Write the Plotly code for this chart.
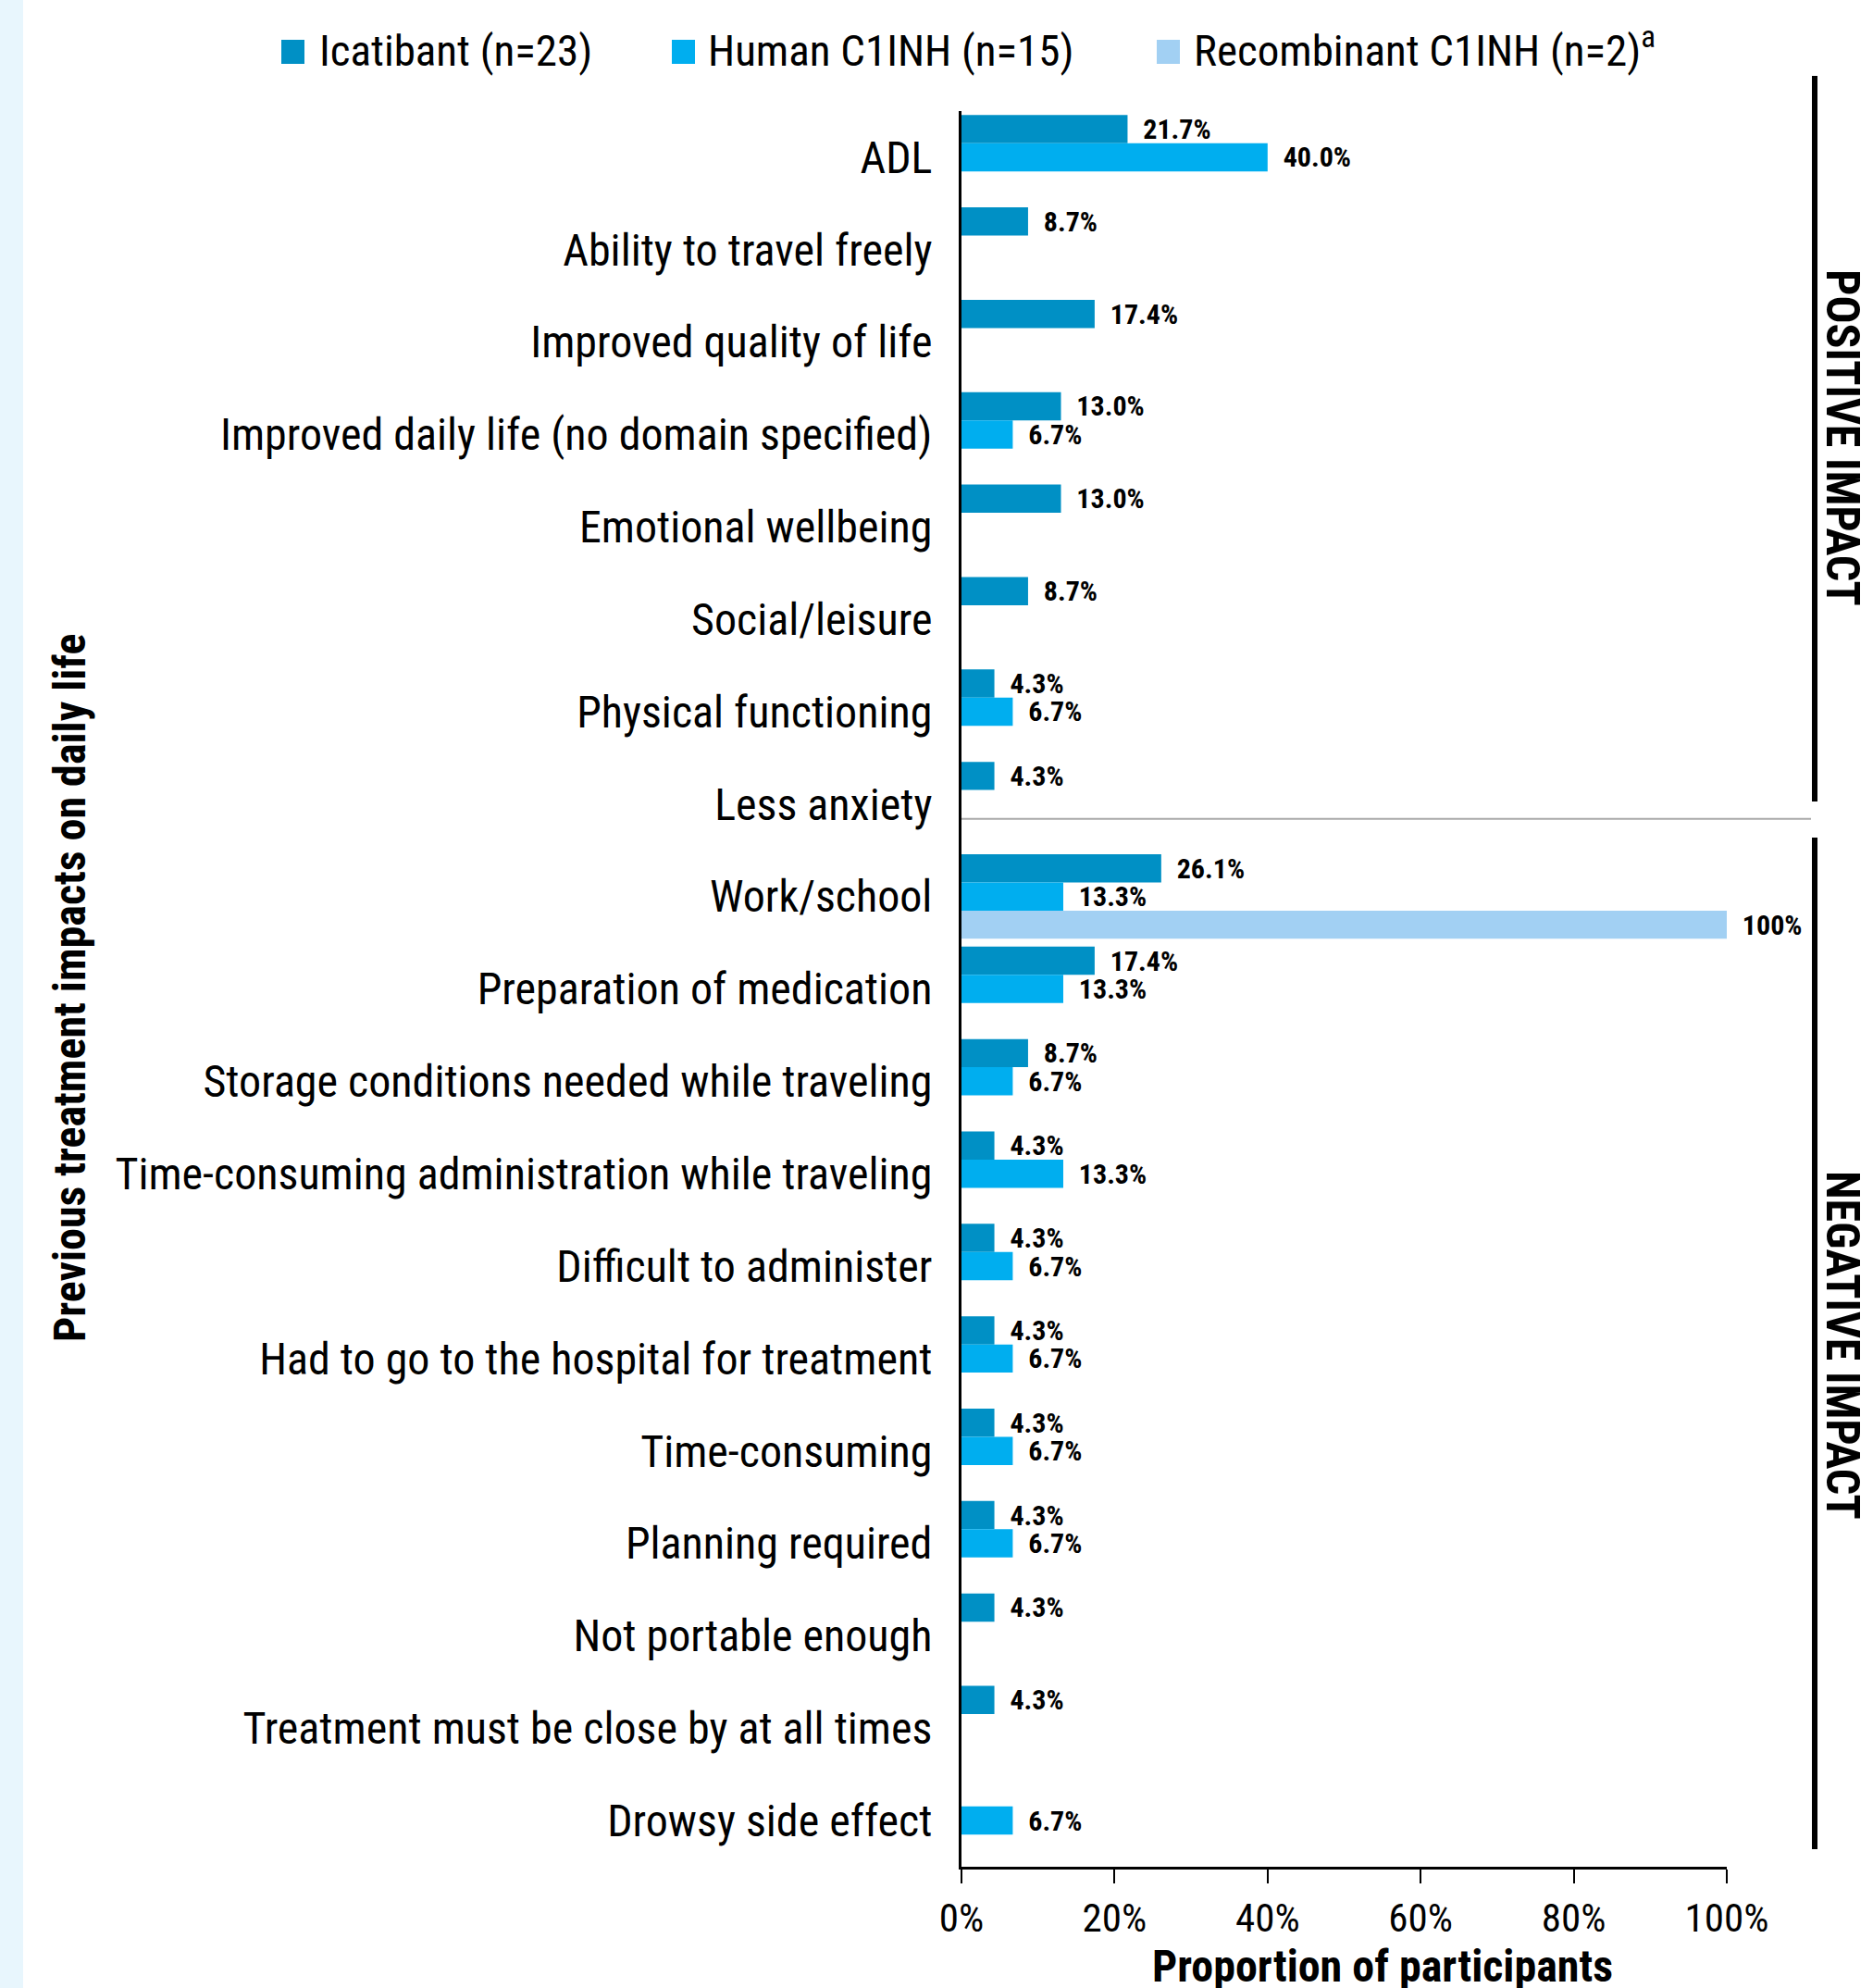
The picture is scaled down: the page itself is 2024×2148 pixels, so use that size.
import plotly.graph_objects as go

categories = [
    "ADL",
    "Ability to travel freely",
    "Improved quality of life",
    "Improved daily life (no domain specified)",
    "Emotional wellbeing",
    "Social/leisure",
    "Physical functioning",
    "Less anxiety",
    "Work/school",
    "Preparation of medication",
    "Storage conditions needed while traveling",
    "Time-consuming administration while traveling",
    "Difficult to administer",
    "Had to go to the hospital for treatment",
    "Time-consuming",
    "Planning required",
    "Not portable enough",
    "Treatment must be close by at all times",
    "Drowsy side effect",
]

icatibant = [21.7, 8.7, 17.4, 13.0, 13.0, 8.7, 4.3, 4.3,
             26.1, 17.4, 8.7, 4.3, 4.3, 4.3, 4.3, 4.3, 4.3, 4.3, None]
human_c1inh = [40.0, None, None, 6.7, None, None, 6.7, None,
               13.3, 13.3, 6.7, 13.3, 6.7, 6.7, 6.7, 6.7, None, None, 6.7]
recombinant_c1inh = [None, None, None, None, None, None, None, None,
                     100.0, None, None, None, None, None, None, None, None, None, None]

series_names = ["Icatibant (n=23)", "Human C1INH (n=15)", "Recombinant C1INH (n=2)<sup>a</sup>"]
series_values = [icatibant, human_c1inh, recombinant_c1inh]
series_colors = ["#0090C5", "#00AEEF", "#A2D0F3"]

x_ticks = [0, 20, 40, 60, 80, 100]
x_tick_labels = ["0%", "20%", "40%", "60%", "80%", "100%"]

FONT = "'Liberation Sans Narrow', 'Roboto Condensed', 'Arial Narrow', 'DejaVu Sans Condensed', sans-serif"

W, H = 2024, 2148
ML, MR, MT, MB = 1039, 158, 120, 131
PW = W - ML - MR
PH = H - MT - MB


def px_x(px):
    return (px - ML) / PW


def px_y(py):
    return 1 - (py - MT) / PH


def fmt(v):
    if v is None:
        return ""
    if v >= 100:
        return "\u00a0\u00a0%d%%" % round(v)
    return "\u00a0\u00a0%.1f%%" % v


fig = go.Figure()
for name, vals, col in zip(series_names, series_values, series_colors):
    fig.add_trace(go.Bar(
        y=categories,
        x=vals,
        name=name,
        orientation="h",
        marker=dict(color=col, line=dict(width=0)),
        text=[fmt(v) for v in vals],
        textposition="outside",
        constraintext="none",
        cliponaxis=False,
        textfont=dict(family=FONT, size=30, color="black", weight="bold"),
        hoverinfo="skip",
        showlegend=False,
    ))

shapes = []
# left light stripe
shapes.append(dict(type="rect", xref="paper", yref="paper",
                   x0=px_x(0), x1=px_x(25), y0=px_y(H + 5), y1=px_y(-5),
                   fillcolor="#E8F6FD", line=dict(width=0), layer="below"))
# separator line between positive and negative impacts
shapes.append(dict(type="line", xref="paper", yref="y",
                   x0=0, x1=px_x(1957), y0=7.16, y1=7.16,
                   line=dict(color="#AAAAAA", width=2)))
# brackets
shapes.append(dict(type="line", xref="paper", yref="paper",
                   x0=px_x(1961), x1=px_x(1961), y0=px_y(82), y1=px_y(866),
                   line=dict(color="black", width=6)))
shapes.append(dict(type="line", xref="paper", yref="paper",
                   x0=px_x(1961), x1=px_x(1961), y0=px_y(905), y1=px_y(1998),
                   line=dict(color="black", width=6)))

annotations = [
    dict(text="<b>POSITIVE IMPACT</b>", xref="paper", yref="paper",
         x=px_x(1991), y=px_y(473), textangle=90, showarrow=False,
         font=dict(family=FONT, size=50, color="black"),
         xanchor="center", yanchor="middle"),
    dict(text="<b>NEGATIVE IMPACT</b>", xref="paper", yref="paper",
         x=px_x(1991), y=px_y(1453), textangle=90, showarrow=False,
         font=dict(family=FONT, size=50, color="black"),
         xanchor="center", yanchor="middle"),
    dict(text="<b>Previous treatment impacts on daily life</b>", xref="paper", yref="paper",
         x=px_x(75), y=px_y(1068), textangle=-90, showarrow=False,
         font=dict(family=FONT, size=48, color="black"),
         xanchor="center", yanchor="middle"),
    dict(text="<b>Proportion of participants</b>", xref="paper", yref="paper",
         x=px_x(1494), y=px_y(2124), showarrow=False,
         font=dict(family=FONT, size=48, color="black"),
         xanchor="center", yanchor="middle"),
]

# legend (drawn as swatches + labels to match the reference sizing)
legend_icon_x = [304, 726, 1250]
legend_text_x = [343, 763, 1288]
legend_text_y = [55, 55, 51]
for name, col, ix, tx, ty in zip(series_names, series_colors, legend_icon_x, legend_text_x, legend_text_y):
    shapes.append(dict(type="rect", xref="paper", yref="paper",
                       x0=px_x(ix), x1=px_x(ix + 25), y0=px_y(69), y1=px_y(43),
                       fillcolor=col, line=dict(width=0)))
    annotations.append(dict(text=name, xref="paper", yref="paper",
                            x=px_x(tx), y=px_y(ty), showarrow=False,
                            xanchor="left", yanchor="middle",
                            font=dict(family=FONT, size=47, color="black")))

fig.update_layout(
    width=W, height=H,
    margin=dict(l=ML, r=MR, t=MT, b=MB, pad=0),
    paper_bgcolor="white", plot_bgcolor="white",
    barmode="group", bargap=0.085, bargroupgap=0,
    font=dict(family=FONT, color="black"),
    showlegend=False,
    shapes=shapes,
    annotations=annotations,
    xaxis=dict(range=[0, 100], tickvals=x_ticks, ticktext=x_tick_labels,
               showgrid=False, zeroline=False, showline=True, linecolor="black", linewidth=3,
               ticks="outside", ticklen=15, tickwidth=2, tickcolor="black",
               tickfont=dict(family=FONT, size=43, color="black"), fixedrange=True),
    yaxis=dict(categoryorder="array", categoryarray=categories, autorange="reversed",
               showgrid=False, zeroline=False, showline=True, linecolor="black", linewidth=3,
               ticks="", ticklabelstandoff=19,
               tickfont=dict(family=FONT, size=48, color="black"), fixedrange=True),
)

fig.write_html("out.html")
